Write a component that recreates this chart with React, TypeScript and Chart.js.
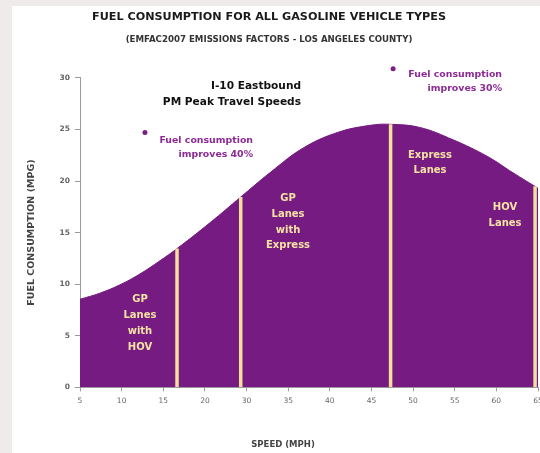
import React, { useEffect, useRef } from "react";
import { Chart, registerables } from "chart.js";

Chart.register(...registerables);

// ---- data (x values are positions along the printed speed axis) ----
const speedPositions = [5, 7.4, 9.8, 12.2, 14.6, 16.65, 20.6, 24.3, 27.8, 31.8, 35.9, 39.8, 42.3, 45.8, 49.8, 53.9, 57.0, 60];
const mpgValues = [8.54, 9.13, 9.94, 10.99, 12.27, 13.45, 15.95, 18.45, 20.8, 23.2, 24.7, 25.4, 25.5, 25.2, 24.0, 22.4, 20.8, 19.3];
const dividerPositions = [16.65, 24.3, 42.3, 59.65];
const dividerHeights = [13.45, 18.45, 25.5, 19.5];
const markerPositions = [12.8, 42.6];
const markerValues = [24.7, 30.9];
const xTickLabels = ["5", "10", "15", "20", "30", "35", "40", "45", "50", "55", "60", "65"];
const yTickValues = [0, 5, 10, 15, 20, 25, 30];

const titleText = "FUEL CONSUMPTION FOR ALL GASOLINE VEHICLE TYPES";
const subtitleText = "(EMFAC2007 EMISSIONS FACTORS - LOS ANGELES COUNTY)";
const yTitleText = "FUEL CONSUMPTION (MPG)";
const xTitleText = "SPEED (MPH)";

const FONT = "'DejaVu Sans', sans-serif";
const PURPLE = "#761b81";
const CREAM = "#f6e2a4";
const DIVIDER = "#f4e09a";
const MAGENTA = "#8c2b94";
const MARKER = "#7a1f85";

type Block = { x: number; y: number; align: CanvasTextAlign; lines: string[]; color: string; size: number; gap: number };

const blocks: Block[] = [
  { x: 31.54, y: 29.15, align: "right", lines: ["I-10 Eastbound", "PM Peak Travel Speeds"], color: "#111", size: 10.6, gap: 16 },
  { x: 25.78, y: 23.95, align: "right", lines: ["Fuel consumption", "improves 40%"], color: MAGENTA, size: 9.4, gap: 14.5 },
  { x: 55.68, y: 30.32, align: "right", lines: ["Fuel consumption", "improves 30%"], color: MAGENTA, size: 9.4, gap: 14 },
  { x: 12.2, y: 8.48, align: "center", lines: ["GP", "Lanes", "with", "HOV"], color: CREAM, size: 10, gap: 16 },
  { x: 29.98, y: 18.28, align: "center", lines: ["GP", "Lanes", "with", "Express"], color: CREAM, size: 10, gap: 15.7 },
  { x: 47.03, y: 22.47, align: "center", lines: ["Express", "Lanes"], color: CREAM, size: 10, gap: 15 },
  { x: 56.04, y: 17.41, align: "center", lines: ["HOV", "Lanes"], color: CREAM, size: 10, gap: 16 },
];

const backgroundPlugin = {
  id: "bg",
  beforeDraw(chart: any) {
    const { ctx, width, height } = chart;
    ctx.save();
    ctx.fillStyle = "#efebeb";
    ctx.fillRect(0, 0, width, height);
    ctx.fillStyle = "#ffffff";
    ctx.fillRect(12, 6, width - 12, height - 6);
    ctx.restore();
  },
};

const textPlugin = {
  id: "texts",
  afterDatasetsDraw(chart: any) {
    const { ctx, scales, chartArea } = chart;
    ctx.save();
    // marker dots (one lies above the axis maximum, so they are drawn here)
    ctx.fillStyle = MARKER;
    markerPositions.forEach((v, i) => {
      const px = scales.x.getPixelForValue(v);
      const py = scales.y.getPixelForValue(markerValues[i]);
      ctx.beginPath();
      ctx.arc(px, py, 2.5, 0, Math.PI * 2);
      ctx.fill();
    });
    ctx.textBaseline = "middle";
    for (const b of blocks) {
      const px = scales.x.getPixelForValue(b.x);
      const py = scales.y.getPixelForValue(b.y);
      ctx.font = `bold ${b.size}px ${FONT}`;
      ctx.fillStyle = b.color;
      ctx.textAlign = b.align;
      b.lines.forEach((l, i) => ctx.fillText(l, px, py + i * b.gap));
    }
    // x axis title
    ctx.font = `bold 8.5px ${FONT}`;
    ctx.fillStyle = "#444";
    ctx.textAlign = "center";
    ctx.fillText(xTitleText, chartArea.left + 203, 445);
    ctx.restore();
  },
};

export default function App() {
  const ref = useRef<HTMLCanvasElement>(null);
  useEffect(() => {
    const canvas = ref.current!;
    const chart = new Chart(canvas, {
      type: "line",
      data: {
        datasets: [
          ...dividerPositions.map((p, i) => ({
            data: [
              { x: p, y: 0 },
              { x: p, y: dividerHeights[i] },
            ],
            borderColor: DIVIDER,
            borderWidth: 3.5,
            pointRadius: 0,
            fill: false,
            order: 1,
          })),
          {
            data: speedPositions.map((x, i) => ({ x, y: mpgValues[i] })),
            borderColor: PURPLE,
            borderWidth: 1,
            backgroundColor: PURPLE,
            fill: "origin",
            pointRadius: 0,
            tension: 0.4,
            order: 10,
          },
        ],
      },
      options: {
        responsive: false,
        animation: false,
        devicePixelRatio: 1,
        layout: { padding: { left: 0, right: 2, top: 0, bottom: 0 } },
        plugins: {
          legend: { display: false },
          tooltip: { enabled: false },
          title: {
            display: true,
            text: titleText,
            color: "#1a1a1a",
            font: { family: FONT, size: 11.2, weight: "bold" },
            padding: { top: 10.3, bottom: 0 },
          },
          subtitle: {
            display: true,
            text: subtitleText,
            color: "#333",
            font: { family: FONT, size: 8.65, weight: "bold" },
            padding: { top: 10.8, bottom: 33 },
          },
        },
        scales: {
          x: {
            type: "linear",
            min: 5,
            max: 60,
            afterBuildTicks: (s: any) => {
              s.ticks = xTickLabels.map((_, i) => ({ value: 5 + i * 5 }));
            },
            ticks: {
              callback: (_v: any, i: number) => xTickLabels[i],
              color: "#666",
              font: { family: FONT, size: 7.5 },
              padding: 5,
              maxRotation: 0,
              autoSkip: false,
            },
            grid: { drawOnChartArea: false, tickLength: 4, color: "#9a9a9a" },
            border: { color: "#9a9a9a" },
            afterFit: (s: any) => {
              s.height = 65.7;
              s.paddingLeft = 0;
              s.paddingRight = 0;
            },
          },
          y: {
            min: 0,
            max: 30,
            afterBuildTicks: (s: any) => {
              s.ticks = yTickValues.map((v) => ({ value: v }));
            },
            ticks: {
              color: "#666",
              font: { family: FONT, size: 7.5, weight: "bold" },
              padding: 5,
            },
            grid: { drawOnChartArea: false, tickLength: 5, color: "#9a9a9a" },
            border: { color: "#9a9a9a" },
            title: {
              display: true,
              text: yTitleText,
              color: "#444",
              font: { family: FONT, size: 9.5, weight: "bold" },
              padding: { top: 26.3, bottom: 0 },
            },
            afterFit: (s: any) => {
              s.width = 80;
              s.paddingTop = 0;
              s.paddingBottom = 0;
            },
          },
        },
      },
      plugins: [backgroundPlugin, textPlugin],
    } as any);
    return () => chart.destroy();
  }, []);

  return (
    <div style={{ position: "fixed", left: 0, top: 0, width: 540, height: 453 }}>
      <canvas ref={ref} width={540} height={453} style={{ width: 540, height: 453, display: "block" }} />
    </div>
  );
}
